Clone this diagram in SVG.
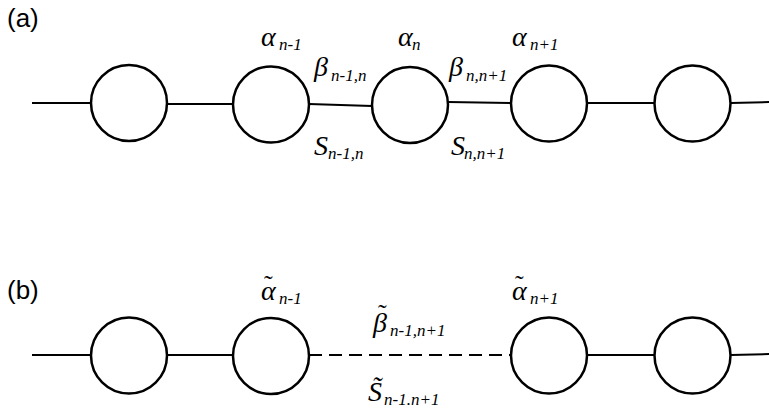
<svg xmlns="http://www.w3.org/2000/svg" width="769" height="408" viewBox="0 0 769 408">
<style>
.node{fill:#fff;stroke:#000;stroke-width:2.5}
.edge{stroke:#000;stroke-width:2;fill:none}
.dash{stroke:#000;stroke-width:2;fill:none;stroke-dasharray:13 7}
.lab{font-family:"Liberation Sans",Arial,sans-serif;font-size:26px;fill:#000}
.m{font-family:"Liberation Serif","Times New Roman",serif;font-style:italic;font-size:28px;fill:#000}
.s{font-size:17px}
.t{font-size:26px;font-style:normal}
</style>
<rect width="769" height="408" fill="#fff"/>
<g id="connectors">
<line class="edge" x1="32" y1="103" x2="91" y2="103"/>
<line class="edge" x1="167" y1="104" x2="233" y2="104"/>
<line class="edge" x1="309" y1="104" x2="372" y2="106"/>
<line class="edge" x1="448" y1="102" x2="511" y2="103"/>
<line class="edge" x1="587" y1="103" x2="654" y2="103"/>
<line class="edge" x1="731" y1="103" x2="769" y2="102"/>
<line class="edge" x1="32" y1="355" x2="91" y2="355"/>
<line class="edge" x1="167" y1="355" x2="233" y2="355"/>
<line class="dash" x1="309" y1="355" x2="511" y2="355"/>
<line class="edge" x1="587" y1="355" x2="654" y2="355"/>
<line class="edge" x1="731" y1="355" x2="769" y2="354"/>
</g>
<g id="a1"><circle class="node" cx="129" cy="103" r="38"/></g>
<g id="a2"><circle class="node" cx="271" cy="104.5" r="38"/></g>
<g id="a3"><circle class="node" cx="410" cy="105" r="38"/></g>
<g id="a4"><circle class="node" cx="549" cy="103.5" r="38"/></g>
<g id="a5"><circle class="node" cx="692.5" cy="103.5" r="38"/></g>
<g id="b1"><circle class="node" cx="129" cy="355.5" r="38"/></g>
<g id="b2"><circle class="node" cx="271" cy="356" r="38"/></g>
<g id="b4"><circle class="node" cx="549" cy="355.5" r="38"/></g>
<g id="b5"><circle class="node" cx="692.5" cy="355.5" r="38"/></g>
<g id="labels">
<text class="lab" x="7" y="27">(a)</text>
<text class="lab" x="7" y="299">(b)</text>
<text class="m" x="261" y="46">α<tspan class="s" x="279" y="50">n-1</tspan></text>
<text class="m" x="398" y="46">α<tspan class="s" x="412" y="50">n</tspan></text>
<text class="m" x="512" y="46">α<tspan class="s" x="530" y="50">n+1</tspan></text>
<text class="m" x="314" y="76">β<tspan class="s" x="331" y="81">n-1,n</tspan></text>
<text class="m" x="449" y="76">β<tspan class="s" x="466" y="81">n,n+1</tspan></text>
<text class="m" x="314" y="155">S<tspan class="s" x="328" y="159">n-1,n</tspan></text>
<text class="m" x="451" y="155">S<tspan class="s" x="464" y="159">n,n+1</tspan></text>
<text class="m" x="261" y="300">α<tspan class="s" x="279" y="304">n-1</tspan></text>
<text class="m t" x="264" y="293">˜</text>
<text class="m" x="512" y="300">α<tspan class="s" x="530" y="304">n+1</tspan></text>
<text class="m t" x="515" y="293">˜</text>
<text class="m" x="373" y="332">β<tspan class="s" x="390" y="336">n-1,n+1</tspan></text>
<text class="m t" x="378" y="322">˜</text>
<text class="m" x="368" y="401">S̃<tspan class="s" x="384" y="405">n-1.n+1</tspan></text>
</g>
</svg>
